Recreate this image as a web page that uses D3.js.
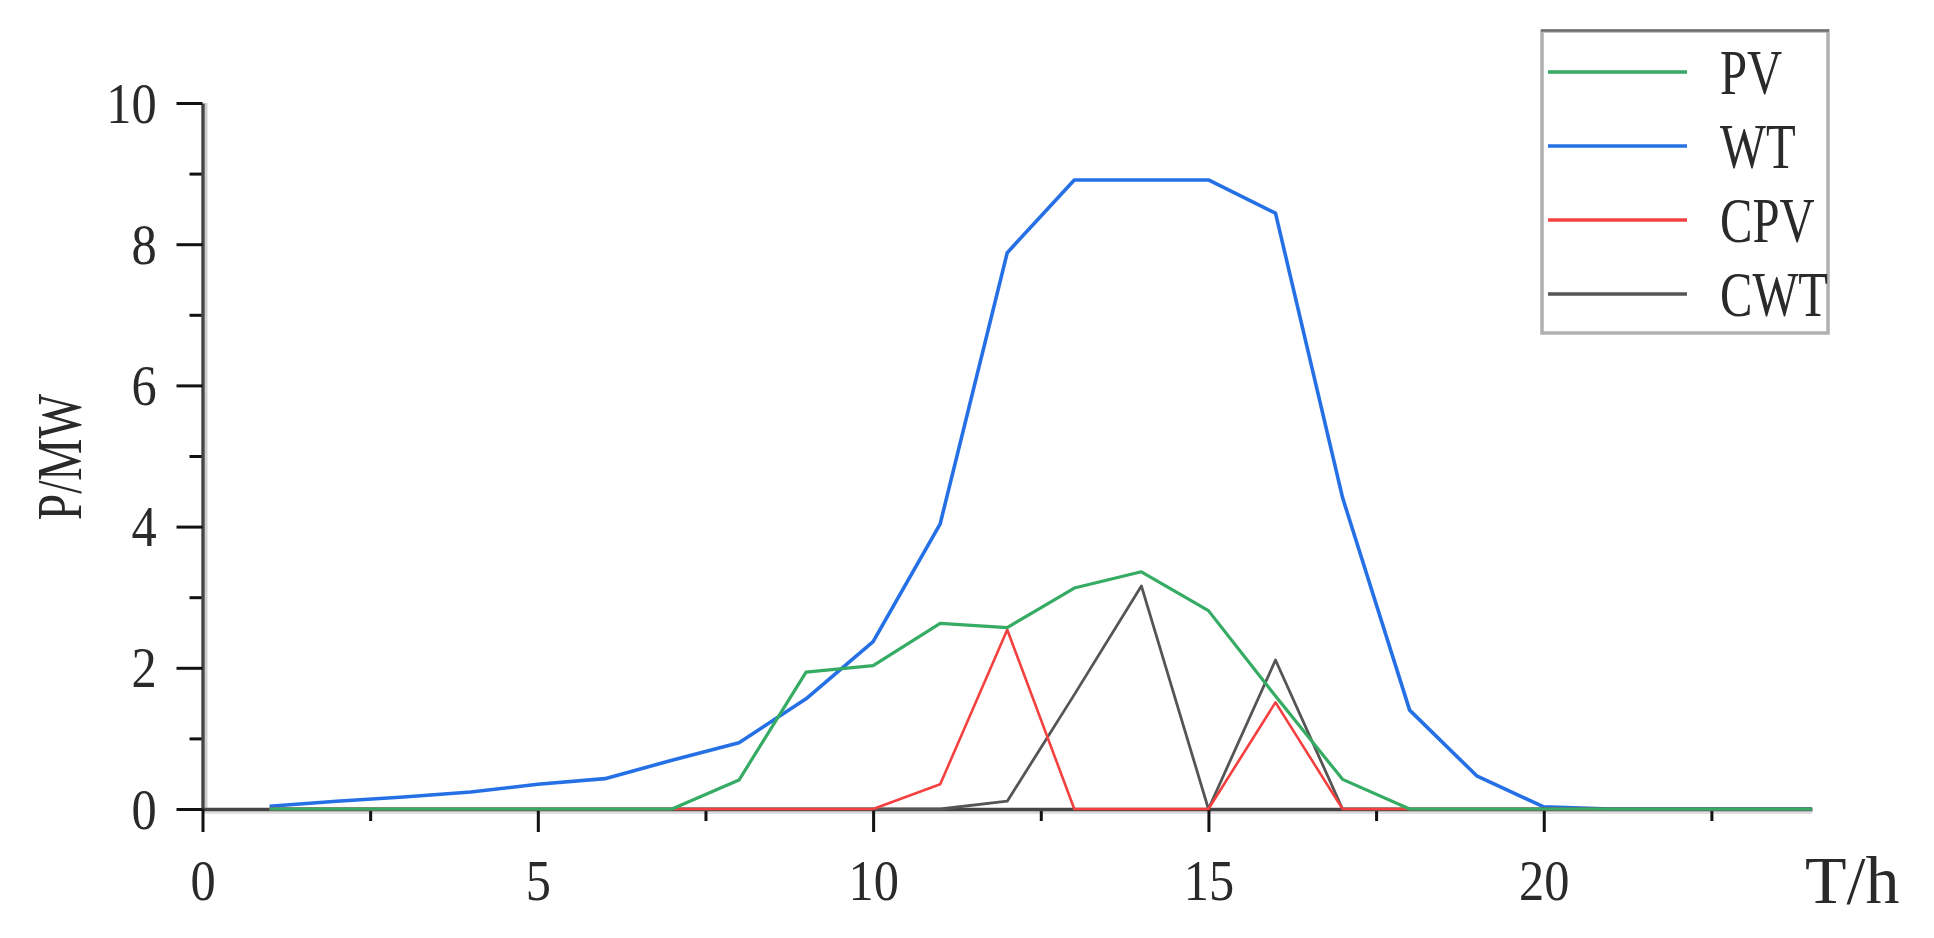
<!DOCTYPE html>
<html>
<head>
<meta charset="utf-8">
<script src="https://cdn.jsdelivr.net/npm/d3@7"></script>
<style>
  html, body { margin: 0; padding: 0; background: #fff; }
  svg { display: block; }
  text { font-family: "Liberation Serif", "DejaVu Serif", serif; fill: #2a2a2a; }
</style>
</head>
<body>
<svg id="chart" width="1934" height="938"></svg>
<script>
// ---- data ----
const hours = [1,2,3,4,5,6,7,8,9,10,11,12,13,14,15,16,17,18,19,20,21,22,23,24];
const PV  = [0,0,0,0,0,0,0,0.41,1.94,2.03,2.63,2.57,3.13,3.36,2.81,1.6,0.42,0,0,0,0,0,0,0];
const WT  = [0.04,0.11,0.17,0.24,0.35,0.43,0.69,0.94,1.56,2.37,4.04,7.88,8.91,8.91,8.91,8.44,4.41,1.4,0.47,0.03,0,0,0,0];
const CPV = [0,0,0,0,0,0,0,0,0,0,0.35,2.54,0,0,0,1.51,0,0,0,0,0,0,0,0];
const CWT = [0,0,0,0,0,0,0,0,0,0,0,0.11,1.62,3.16,0,2.11,0,0,0,0,0,0,0,0];
const seriesNames = ["PV","WT","CPV","CWT"];
const xMajorTicks = [0,5,10,15,20];
const xMinorTicks = [2.5,7.5,12.5,17.5,22.5];
const yMajorTicks = [0,2,4,6,8,10];
const yMinorTicks = [1,3,5,7,9];
const xLabel = "T/h";
const yLabel = "P/MW";

(function () {
const colors = { PV: "#35ab63", WT: "#2670e6", CPV: "#f54040", CWT: "#555555" };
const widths = { PV: 3.2, WT: 3.6, CPV: 2.6, CWT: 2.8 };
const values = { PV, WT, CPV, CWT };

const svg = d3.select("#chart");
const pLeft = 202.5, pRight = 1812, pTop = 103, pBottom = 809;

const x = d3.scaleLinear().domain([0, 24]).range([pLeft, pRight]);
const y = d3.scaleLinear().domain([0, 10]).range([pBottom, pTop]);

// shadows
svg.append("line").attr("x1", pLeft + 3.5).attr("x2", pLeft + 3.5).attr("y1", pTop).attr("y2", pBottom)
  .attr("stroke", "#cfcfcf").attr("stroke-width", 3);
svg.append("line").attr("x1", pLeft).attr("x2", pRight).attr("y1", pBottom + 3.5).attr("y2", pBottom + 3.5)
  .attr("stroke", "#dedede").attr("stroke-width", 3);

function styleAxis(g) {
  g.select(".domain").attr("stroke", "#454545").attr("stroke-width", 3.4);
  g.selectAll(".tick line").attr("stroke", "#111").attr("stroke-width", 3);
}

const xMinor = svg.append("g").attr("transform", `translate(0,${pBottom})`)
  .call(d3.axisBottom(x).tickValues(xMinorTicks).tickSize(12).tickSizeOuter(0).tickFormat(""));
styleAxis(xMinor);
xMinor.select(".domain").remove();

const yMinor = svg.append("g").attr("transform", `translate(${pLeft},0)`)
  .call(d3.axisLeft(y).tickValues(yMinorTicks).tickSize(13).tickSizeOuter(0).tickFormat(""));
styleAxis(yMinor);
yMinor.select(".domain").remove();

const yAxis = svg.append("g").attr("transform", `translate(${pLeft},0)`)
  .call(d3.axisLeft(y).tickValues(yMajorTicks).tickSize(26).tickSizeOuter(0).tickFormat(d3.format("d")));
styleAxis(yAxis);
yAxis.selectAll(".tick text")
  .attr("font-size", 56).attr("fill", "#3a3a3a")
  .attr("x", -51).attr("dy", "0.34em")
  .attr("transform", "scale(0.9,1)")
  .style("font-family", "'Liberation Serif', serif");

const xAxis = svg.append("g").attr("transform", `translate(0,${pBottom})`)
  .call(d3.axisBottom(x).tickValues(xMajorTicks).tickSize(23).tickSizeOuter(0).tickFormat(d3.format("d")));
styleAxis(xAxis);
xAxis.selectAll(".tick text")
  .attr("font-size", 56).attr("fill", "#3a3a3a")
  .attr("y", 91).attr("dy", 0)
  .attr("transform", "scale(0.9,1)")
  .style("font-family", "'Liberation Serif', serif");

// lines
const line = d3.line().x((d, i) => x(hours[i])).y(d => y(d));
const drawOrder = ["WT", "CWT", "CPV", "PV"];
drawOrder.forEach(name => {
  svg.append("path").datum(values[name])
    .attr("d", line)
    .attr("fill", "none")
    .attr("stroke", colors[name])
    .attr("stroke-width", widths[name])
    .attr("stroke-linejoin", "round");
});

// axis labels
svg.append("text").attr("x", 1805).attr("y", 903)
  .attr("font-size", 68).attr("fill", "#333").text(xLabel);

svg.append("text")
  .attr("transform", "translate(81,457) rotate(-90) scale(0.74,1)")
  .attr("text-anchor", "middle")
  .attr("font-size", 64).attr("fill", "#2a2a2a").text(yLabel);

// legend
const lg = svg.append("g");
lg.append("rect").attr("x", 1542).attr("y", 31).attr("width", 286).attr("height", 302)
  .attr("fill", "#fff").attr("stroke", "#b0b0b0").attr("stroke-width", 3.5);
lg.append("line").attr("x1", 1541).attr("x2", 1829).attr("y1", 30.5).attr("y2", 30.5)
  .attr("stroke", "#707070").attr("stroke-width", 2.5);

const legendY = d3.scalePoint().domain(seriesNames).range([72, 294]);
seriesNames.forEach(name => {
  lg.append("line").attr("x1", 1548).attr("x2", 1687)
    .attr("y1", legendY(name)).attr("y2", legendY(name))
    .attr("stroke", colors[name]).attr("stroke-width", 3.4);
  lg.append("text")
    .attr("transform", `translate(1720,${legendY(name) + 22}) scale(0.76,1)`)
    .attr("font-size", 64).attr("fill", "#2a2a2a").text(name);
});
})();
</script>
</body>
</html>
